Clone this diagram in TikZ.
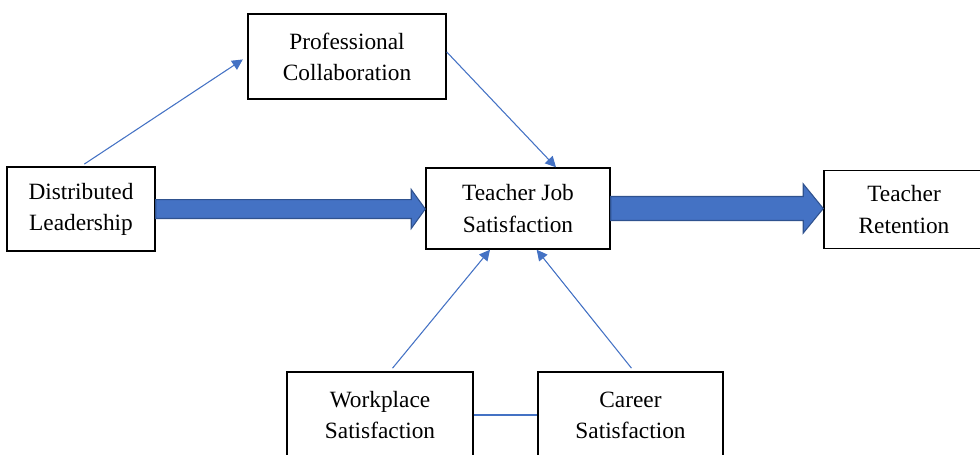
\documentclass[tikz,border=0pt]{standalone}
\usepackage{fontspec}
\setmainfont{Liberation Serif}
\usetikzlibrary{arrows.meta,calc}
\definecolor{arrowblue}{HTML}{4472C4}
\definecolor{edgeblue}{HTML}{2F528F}

% block arrow from the east side of #1 to the west side of #2
% #3 shaft half height, #4 head half height, #5 head length
\newcommand{\fatarrow}[5]{%
  \path[fat arrow] let \p1=(#1.east), \p2=(#2.west) in
    (\x1,\y1+#3) -- (\x2-#5,\y1+#3) -- (\x2-#5,\y1+#4) -- (\x2,\y1)
    -- (\x2-#5,\y1-#4) -- (\x2-#5,\y1-#3) -- (\x1,\y1-#3) -- cycle;}

\begin{document}
\begin{tikzpicture}[
    x=0.75pt, y=-0.75pt,
    >={Triangle[length=8pt,width=8pt]},
    box/.style={draw,line width=1.1pt,align=center,inner sep=0pt,
      font=\fontsize{17.5}{23.3}\selectfont},
    thin link/.style={draw=arrowblue,line width=0.8pt},
    every edge/.style={thin link,->},
    fat arrow/.style={fill=arrowblue,draw=edgeblue,line width=0.8pt}
  ]
    \useasboundingbox (0,0) rectangle (980,454);
    \clip (0,0) rectangle (980,454);

    % Boxes
    \node[box,minimum width=148.5pt,minimum height=63.75pt] (PC)  at (347,56.5)  {Professional\\Collaboration};
    \node[box,minimum width=111pt,minimum height=63pt]      (DL)  at (81,209)    {Distributed\\Leadership};
    \node[box,minimum width=138pt,minimum height=60.75pt]   (TJS) at (518,208.5) {Teacher Job\\Satisfaction};
    \node[box,minimum width=120pt,minimum height=58.5pt]    (TR)  at (904,209.5) {Teacher\\Retention};
    \node[box,minimum width=139.5pt,minimum height=64.5pt]  (WS)  at (380,415)   {Workplace\\Satisfaction};
    \node[box,minimum width=138.75pt,minimum height=64.5pt] (CS)  at (630.5,415) {Career\\Satisfaction};

    % Thick arrows along the middle row
    \fatarrow{DL}{TJS}{7.1pt}{14.6pt}{10.5pt}
    \fatarrow{TJS}{TR}{9pt}{18.4pt}{15pt}

    % Thin links
    \path (DL.north) edge[shorten <=3pt, shorten >=4pt] (PC.west)
          ([yshift=3.4pt]PC.east) edge ([xshift=28.5pt]TJS.north)
          ([xshift=7.5pt]WS.north) edge[shorten <=3pt] ([xshift=-21pt]TJS.south)
          ([xshift=2.6pt]CS.north) edge[shorten <=3pt] ([xshift=14pt]TJS.south);
    \draw[thin link] (WS.east) -- (CS.west);
\end{tikzpicture}
\end{document}
